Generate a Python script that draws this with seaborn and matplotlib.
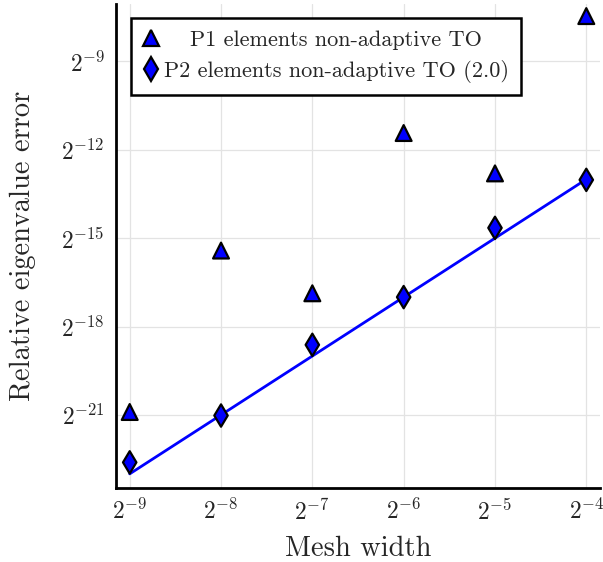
import numpy as np
import pandas as pd
import matplotlib
matplotlib.use("Agg")
import matplotlib.pyplot as plt
import matplotlib.ticker as mticker
from matplotlib.transforms import Affine2D
import seaborn as sns

# mesh widths, as powers of two
h_exp = [-9, -8, -7, -6, -5, -4]
# log2 of the relative eigenvalue error
p1_err_exp = [-20.9, -15.42, -16.87, -11.43, -12.80, -7.46]
p2_err_exp = [-22.61, -21.02, -18.62, -17.0, -14.65, -13.02]
# reference line C * h^rate
ref_rate = 2.0
ref_const_exp = -5.0

label_p1 = "P1 elements non-adaptive TO"
label_p2 = "P2 elements non-adaptive TO (2.0)"

ytick_exp = [-21, -18, -15, -12, -9]

h = 2.0 ** np.array(h_exp)
df = pd.DataFrame({
    "h": np.concatenate([h, h]),
    "err": 2.0 ** np.array(p1_err_exp + p2_err_exp),
    "method": [label_p1] * len(h) + [label_p2] * len(h),
})
ref = pd.DataFrame({"h": h, "err": 2.0 ** ref_const_exp * h ** ref_rate})

sns.set_theme(style="white")
plt.rcParams["mathtext.fontset"] = "cm"
plt.rcParams["font.family"] = ["cmr10", "DejaVu Serif"]
plt.rcParams["axes.formatter.use_mathtext"] = True

fig = plt.figure(figsize=(6.03, 5.62), dpi=100)
ax = fig.add_axes([116 / 603, 1 - 488 / 562, (600 - 116) / 603, (488 - 4) / 562])

# reference slope line
sns.lineplot(data=ref, x="h", y="err", color="blue", linewidth=2, ax=ax,
             legend=False, zorder=2)

sns.scatterplot(data=df, x="h", y="err", style="method",
                markers={label_p1: "^", label_p2: "d"},
                color="blue", edgecolor="black", linewidth=1.6, s=130,
                ax=ax, zorder=3, legend=False)

ax.set_xscale("log", base=2)
ax.set_yscale("log", base=2)
ax.set_xlim(2.0 ** -9.15, 2.0 ** -3.85)
ax.set_ylim(2.0 ** -23.48, 2.0 ** -7.05)

ax.xaxis.set_major_locator(mticker.FixedLocator(h))
ax.yaxis.set_major_locator(mticker.FixedLocator(2.0 ** np.array(ytick_exp)))
ax.xaxis.set_minor_locator(mticker.NullLocator())
ax.yaxis.set_minor_locator(mticker.NullLocator())
fmt = mticker.FuncFormatter(lambda v, p: r"$2^{%d}$" % round(np.log2(v)))
ax.xaxis.set_major_formatter(fmt)
ax.yaxis.set_major_formatter(fmt)

ax.grid(True, color="#e3e3e3", linewidth=0.9)
ax.tick_params(direction="in", length=5, width=0.9, color="#b5b5b5",
               labelsize=17, pad=8)
for s in ["top", "right"]:
    ax.spines[s].set_visible(False)
for s in ["left", "bottom"]:
    ax.spines[s].set_color("black")
    ax.spines[s].set_linewidth(2)

ax.set_xlabel("Mesh width", fontsize=20.5, labelpad=8)
ax.set_ylabel("Relative eigenvalue error", fontsize=20.5, labelpad=18)

# legend with markers only
handles = [
    plt.Line2D([], [], linestyle="none", marker="^", markersize=11,
               markerfacecolor="blue", markeredgecolor="black", markeredgewidth=1.6),
    plt.Line2D([], [], linestyle="none", marker="d", markersize=12,
               markerfacecolor="blue", markeredgecolor="black", markeredgewidth=1.6),
]
leg = ax.legend(handles, [label_p1, label_p2], loc="upper left",
                bbox_to_anchor=(0.032, 0.971), fontsize=16, fancybox=False,
                framealpha=1, edgecolor="black", handlelength=0.7,
                handletextpad=0.2, borderpad=0.55, labelspacing=0.45,
                borderaxespad=0)
leg.get_frame().set_linewidth(1.8)

# centre the shorter legend label like the original
fig.canvas.draw()
r = fig.canvas.get_renderer()
t1, t2 = leg.get_texts()
dx = (t2.get_window_extent(r).width - t1.get_window_extent(r).width) / 2
t1.set_transform(t1.get_transform() + Affine2D().translate(dx, 0))

fig.savefig("out.png", dpi=100)
